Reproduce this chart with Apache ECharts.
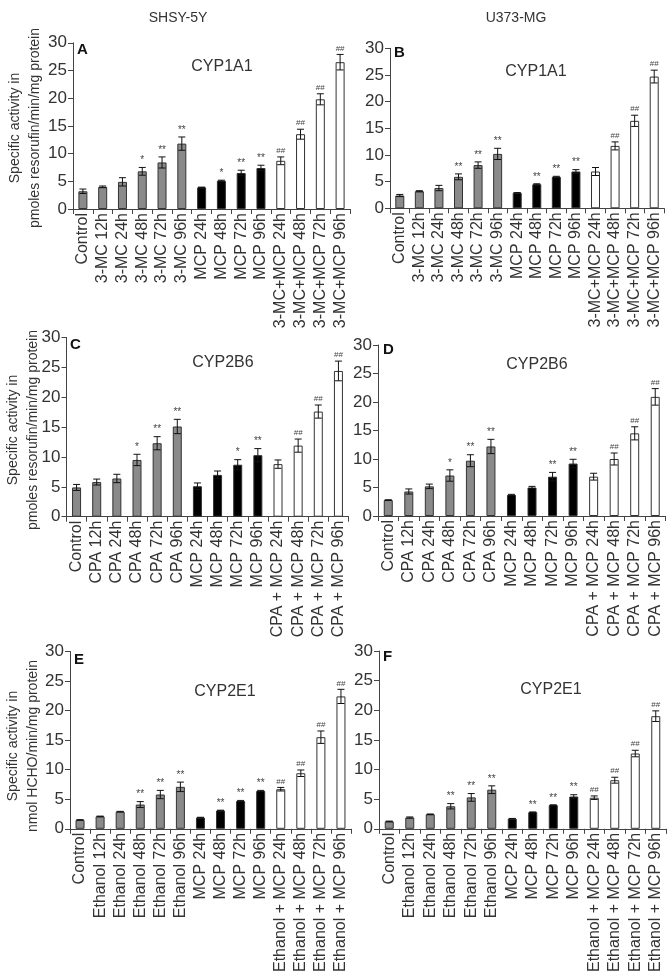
<!DOCTYPE html>
<html><head><meta charset="utf-8">
<script src="https://cdn.jsdelivr.net/npm/echarts@6/dist/echarts.min.js"></script>
<style>html,body{margin:0;padding:0;background:#fff}#c{width:672px;height:975px}</style>
</head><body><div id="c"></div>
<script>
// ---------- data ----------
const catsCYP1A1 = ['Control','3-MC 12h','3-MC 24h','3-MC 48h','3-MC 72h','3-MC 96h','MCP 24h','MCP 48h','MCP 72h','MCP 96h','3-MC+MCP 24h','3-MC+MCP 48h','3-MC+MCP 72h','3-MC+MCP 96h'];
const catsCYP2B6 = ['Control','CPA 12h','CPA 24h','CPA 48h','CPA 72h','CPA 96h','MCP 24h','MCP 48h','MCP 72h','MCP 96h','CPA + MCP 24h','CPA + MCP 48h','CPA + MCP 72h','CPA + MCP 96h'];
const catsCYP2E1 = ['Control','Ethanol 12h','Ethanol 24h','Ethanol 48h','Ethanol 72h','Ethanol 96h','MCP 24h','MCP 48h','MCP 72h','MCP 96h','Ethanol + MCP 24h','Ethanol + MCP 48h','Ethanol + MCP 72h','Ethanol + MCP 96h'];
const yTicks = [0, 5, 10, 15, 20, 25, 30];

const valsA = [3.2, 4.0, 4.9, 6.8, 8.4, 11.8, 3.9, 5.1, 6.5, 7.4, 8.7, 13.5, 19.8, 26.5];
const errsA = [0.4, 0.15, 0.75, 0.7, 1.0, 1.2, 0.05, 0.1, 0.5, 0.5, 0.7, 0.9, 1.0, 1.4];
const sigA  = ['','','','*','**','**','','*','**','**','##','##','##','##'];

const valsB = [2.4, 3.2, 3.8, 5.9, 8.1, 10.2, 2.9, 4.5, 5.9, 6.9, 6.9, 11.7, 16.4, 24.7];
const errsB = [0.2, 0.1, 0.5, 0.55, 0.6, 1.05, 0.05, 0.1, 0.1, 0.35, 0.75, 0.75, 1.05, 1.2];
const sigB  = ['','','','**','**','**','','**','**','**','','##','##','##'];

const valsC = [4.9, 5.8, 6.4, 9.5, 12.3, 15.1, 5.1, 7.0, 8.7, 10.3, 8.8, 11.9, 17.6, 24.4];
const errsC = [0.5, 0.5, 0.7, 0.95, 1.1, 1.2, 0.55, 0.65, 0.85, 1.1, 0.7, 1.1, 1.1, 1.65];
const sigC  = ['','','','*','**','**','','','*','**','','##','##','##'];

const valsD = [2.8, 4.3, 5.2, 7.1, 9.7, 12.2, 3.7, 5.0, 6.9, 9.2, 6.9, 10.0, 14.5, 20.9];
const errsD = [0.05, 0.45, 0.4, 1.0, 1.05, 1.25, 0.1, 0.2, 0.75, 0.75, 0.6, 1.05, 1.15, 1.45];
const sigD  = ['','','','*','**','**','','','**','**','','##','##','##'];

const valsE = [1.5, 2.1, 2.9, 4.1, 5.8, 7.1, 1.9, 3.1, 4.7, 6.4, 6.7, 9.4, 15.5, 22.4];
const errsE = [0.05, 0.05, 0.05, 0.5, 0.7, 0.8, 0.05, 0.05, 0.1, 0.1, 0.3, 0.55, 1.05, 1.2];
const sigE  = ['','','','**','**','**','','**','**','**','##','##','##','##'];

const valsF = [1.25, 1.9, 2.45, 3.8, 5.3, 6.6, 1.7, 2.8, 4.0, 5.45, 5.25, 8.2, 12.7, 19.0];
const errsF = [0.05, 0.1, 0.05, 0.45, 0.65, 0.65, 0.05, 0.05, 0.05, 0.3, 0.3, 0.5, 0.55, 0.9];
const sigF  = ['','','','**','**','**','','**','**','**','##','##','##','##'];

const nameEROD = 'Specific activity in\npmoles resorufin/min/mg protein';
const nameCYP2E1 = 'Specific activity in\nnmol HCHO/min/mg protein';

// ---------- layout / style ----------
const FONT = "'Liberation Sans', Arial, sans-serif";
const TXT = '#333';
const panels = [
  {letter:'A', title:'CYP1A1', cats:catsCYP1A1, vals:valsA, errs:errsA, sig:sigA, g:{left:73, top:42.8, width:277, height:166.2}, lp:[77,50], tp:[222,67], yname:nameEROD, np:[25,128]},
  {letter:'B', title:'CYP1A1', cats:catsCYP1A1, vals:valsB, errs:errsB, sig:sigB, g:{left:390, top:48.3, width:274, height:160}, lp:[394,53], tp:[536,72]},
  {letter:'C', title:'CYP2B6', cats:catsCYP2B6, vals:valsC, errs:errsC, sig:sigC, g:{left:66.5, top:337.5, width:282, height:179.2}, lp:[70,345], tp:[223,363], yname:nameEROD, np:[23,430]},
  {letter:'D', title:'CYP2B6', cats:catsCYP2B6, vals:valsD, errs:errsD, sig:sigD, g:{left:378, top:345, width:287.5, height:171}, lp:[383,350], tp:[537,365]},
  {letter:'E', title:'CYP2E1', cats:catsCYP2E1, vals:valsE, errs:errsE, sig:sigE, g:{left:70, top:651.5, width:281, height:181.5}, lp:[74,660], tp:[225,692], yname:nameCYP2E1, np:[23,746]},
  {letter:'F', title:'CYP2E1', cats:catsCYP2E1, vals:valsF, errs:errsF, sig:sigF, g:{left:379, top:651, width:287, height:183.3}, lp:[383,657], tp:[551,690]}
];
function fillOf(j){ return j < 6 ? '#8a8a8a' : (j < 10 ? '#000000' : '#ffffff'); }

const option = {
  animation:false,
  backgroundColor:'#fff',
  textStyle:{fontFamily:FONT},
  grid:[], xAxis:[], yAxis:[], series:[], graphic:[]
};

panels.forEach((p, i) => {
  option.grid.push(Object.assign({containLabel:false}, p.g));
  option.xAxis.push({
    type:'category', gridIndex:i, data:p.cats,
    axisLine:{lineStyle:{color:'#444', width:1}},
    axisTick:{show:true, length:5, interval:0, lineStyle:{color:'#444'}},
    axisLabel:{interval:0, rotate:90, fontSize:16, color:TXT, margin:4, fontFamily:FONT}
  });
  option.yAxis.push({
    type:'value', gridIndex:i, min:yTicks[0], max:yTicks[yTicks.length-1], interval:yTicks[1]-yTicks[0],
    axisLine:{show:true, lineStyle:{color:'#444', width:1}},
    axisTick:{show:true, length:5, lineStyle:{color:'#444'}},
    splitLine:{show:false},
    axisLabel:{fontSize:17, color:TXT, margin:6, fontFamily:FONT}
  });
  option.series.push({
    type:'bar', xAxisIndex:i, yAxisIndex:i, barWidth:9,
    data:p.vals.map((v, j) => ({value:v, itemStyle:{color:fillOf(j), borderColor:'#333', borderWidth:1}}))
  });
  option.series.push({
    type:'custom', xAxisIndex:i, yAxisIndex:i, z:5,
    data:p.vals.map((v, j) => [j, v, p.errs[j]]),
    renderItem:function(params, api){
      const x = api.value(0), v = api.value(1), e = api.value(2);
      const t = api.coord([x, v + e]);
      const b = api.coord([x, Math.max(0, v - e)]);
      const hw = 3.5;
      const st = {stroke:'#111', lineWidth:1};
      const ch = [
        {type:'line', shape:{x1:t[0], y1:t[1], x2:b[0], y2:b[1]}, style:st},
        {type:'line', shape:{x1:t[0]-hw, y1:t[1], x2:t[0]+hw, y2:t[1]}, style:st},
        {type:'line', shape:{x1:b[0]-hw, y1:b[1], x2:b[0]+hw, y2:b[1]}, style:st}
      ];
      const s = p.sig[params.dataIndex];
      if (s) {
        ch.push({type:'text', x:t[0], y:t[1]-2, style:{text:s, align:'center', verticalAlign:'bottom',
          fontSize: s.charAt(0) === '#' ? 8 : 10, fill:'#444', fontFamily:FONT}});
      }
      return {type:'group', children:ch};
    }
  });
  option.graphic.push({type:'text', x:p.lp[0], y:p.lp[1], style:{text:p.letter, fontSize:15, fontWeight:'bold', fill:'#111', verticalAlign:'middle', fontFamily:FONT}});
  option.graphic.push({type:'text', x:p.tp[0], y:p.tp[1], style:{text:p.title, fontSize:16, fill:TXT, align:'center', verticalAlign:'middle', fontFamily:FONT}});
  if (p.yname) {
    option.graphic.push({type:'text', x:p.np[0], y:p.np[1], rotation:Math.PI/2,
      style:{text:p.yname, fontSize:14, lineHeight:20, fill:TXT, align:'center', verticalAlign:'middle', fontFamily:FONT}});
  }
});
option.graphic.push({type:'text', x:178, y:18, style:{text:'SHSY-5Y', fontSize:14, fill:TXT, align:'center', verticalAlign:'middle', fontFamily:FONT}});
option.graphic.push({type:'text', x:516, y:18, style:{text:'U373-MG', fontSize:14, fill:TXT, align:'center', verticalAlign:'middle', fontFamily:FONT}});

const chart = echarts.init(document.getElementById('c'), null, {renderer:'canvas'});
chart.setOption(option);
</script></body></html>
